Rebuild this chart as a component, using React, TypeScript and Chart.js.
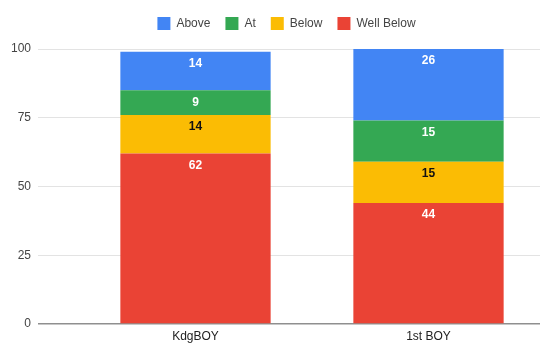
import React, { useEffect, useRef } from "react";
import { Chart, registerables } from "chart.js";

Chart.register(...registerables);

const categories = ["KdgBOY", "1st BOY"];
const wellBelow = [62, 44];
const below = [14, 15];
const at = [9, 15];
const above = [14, 26];
const yTicks = [0, 25, 50, 75, 100];

const COLORS = {
  above: "#4285F4",
  at: "#34A853",
  below: "#FBBC04",
  wellBelow: "#EA4335",
};

const valueLabels = {
  id: "valueLabels",
  afterDatasetsDraw(chart: any) {
    const ctx = chart.ctx;
    ctx.save();
    ctx.font = "bold 12px 'Liberation Sans', Arial, sans-serif";
    ctx.textAlign = "center";
    ctx.textBaseline = "middle";
    chart.data.datasets.forEach((ds: any, di: number) => {
      const meta = chart.getDatasetMeta(di);
      meta.data.forEach((el: any, i: number) => {
        const v = ds.data[i];
        ctx.fillStyle = ds.labelColor;
        ctx.fillText(String(v), el.x, el.y + 12);
      });
    });
    ctx.restore();
  },
};

const legendShift = {
  id: "legendShift",
  afterLayout(chart: any) {
    const lg = chart.legend;
    if (!lg) return;
    const dx = 14;
    const dy = -9;
    lg.left += dx;
    lg.right += dx;
    lg.top += dy;
    lg.bottom += dy;
  },
};

export default function App() {
  const ref = useRef<HTMLCanvasElement | null>(null);
  useEffect(() => {
    if (!ref.current) return;
    const chart = new Chart(ref.current, {
      type: "bar",
      data: {
        labels: categories,
        datasets: [
          { label: "Well Below", data: wellBelow, backgroundColor: COLORS.wellBelow, labelColor: "#ffffff" } as any,
          { label: "Below", data: below, backgroundColor: COLORS.below, labelColor: "#111111" } as any,
          { label: "At", data: at, backgroundColor: COLORS.at, labelColor: "#ffffff" } as any,
          { label: "Above", data: above, backgroundColor: COLORS.above, labelColor: "#ffffff" } as any,
        ],
      },
      options: {
        responsive: false,
        animation: false,
        layout: { padding: { top: 11, left: 0, right: 0, bottom: 0 } },
        datasets: { bar: { categoryPercentage: 1, barPercentage: 0.645 } } as any,
        plugins: {
          legend: {
            position: "top",
            reverse: true,
            labels: {
              boxWidth: 13,
              boxHeight: 13,
              padding: 15,
              color: "#444444",
              font: { size: 12, family: "'Liberation Sans', Arial, sans-serif" },
            },
          },
          tooltip: { enabled: false },
        },
        scales: {
          x: {
            stacked: true,
            afterFit: (scale: any) => {
              scale.height = 19;
            },
            grid: { display: false, drawTicks: false },
            border: { display: false },
            ticks: {
              color: "#222222",
              padding: 5,
              font: { size: 12, family: "'Liberation Sans', Arial, sans-serif" },
            },
          },
          y: {
            stacked: true,
            min: 0,
            max: 100,
            afterFit: (scale: any) => {
              scale.width = 79;
            },
            afterBuildTicks: (scale: any) => {
              scale.ticks = yTicks.map((v) => ({ value: v }));
            },
            border: { display: false },
            grid: {
              color: (c: any) => (c.tick && c.tick.value === 0 ? "#8f8f8f" : "#e3e3e3"),
              tickColor: (c: any) => (c.tick && c.tick.value === 0 ? "#8f8f8f" : "#e3e3e3"),
              tickLength: 41,
              lineWidth: (c: any) => (c.tick && c.tick.value === 0 ? 1.5 : 1),
            },
            ticks: {
              color: "#444444",
              padding: 7,
              font: { size: 12, family: "'Liberation Sans', Arial, sans-serif" },
            },
          },
        },
      },
      plugins: [valueLabels, legendShift],
    });
    return () => chart.destroy();
  }, []);
  return (
    <div style={{ position: "absolute", left: 0, top: 0, width: 540, height: 343, overflow: "hidden", background: "#fff" }}>
      <canvas ref={ref} width={545} height={343} style={{ width: 545, height: 343, display: "block" }} />
    </div>
  );
}
